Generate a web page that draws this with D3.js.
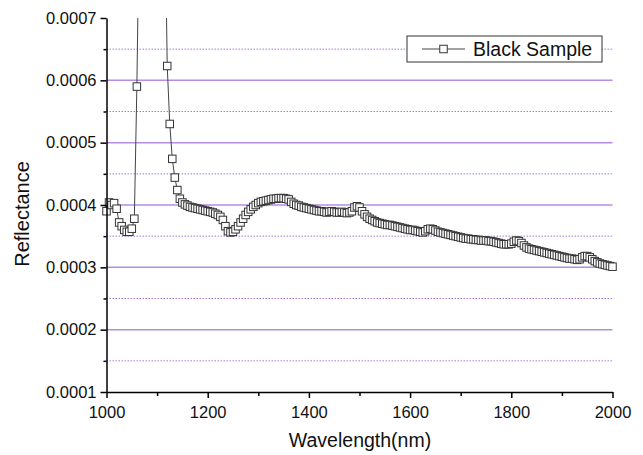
<!DOCTYPE html>
<html>
<head>
<meta charset="utf-8">
<script src="https://cdn.jsdelivr.net/npm/d3@7"></script>
<style>
  body { margin: 0; background: #fff; }
  text { font-family: "Liberation Sans", Arial, sans-serif; }
</style>
</head>
<body>
<svg id="chart" width="643" height="455"></svg>
<script>
// wavelengths (nm)
const wavelength = [
  1000,1005,1010,1015,1020,1025,1030,1035,1040,1045,1050,1055,1060,1065,1070,1075,1080,1085,1090,1095,
  1100,1105,1110,1115,1120,1125,1130,1135,1140,1145,1150,1155,1160,1165,1170,1175,1180,1185,1190,1195,
  1200,1205,1210,1215,1220,1225,1230,1235,1240,1245,1250,1255,1260,1265,1270,1275,1280,1285,1290,1295,
  1300,1305,1310,1315,1320,1325,1330,1335,1340,1345,1350,1355,1360,1365,1370,1375,1380,1385,1390,1395,
  1400,1405,1410,1415,1420,1425,1430,1435,1440,1445,1450,1455,1460,1465,1470,1475,1480,1485,1490,1495,
  1500,1505,1510,1515,1520,1525,1530,1535,1540,1545,1550,1555,1560,1565,1570,1575,1580,1585,1590,1595,
  1600,1605,1610,1615,1620,1625,1630,1635,1640,1645,1650,1655,1660,1665,1670,1675,1680,1685,1690,1695,
  1700,1705,1710,1715,1720,1725,1730,1735,1740,1745,1750,1755,1760,1765,1770,1775,1780,1785,1790,1795,
  1800,1805,1810,1815,1820,1825,1830,1835,1840,1845,1850,1855,1860,1865,1870,1875,1880,1885,1890,1895,
  1900,1905,1910,1915,1920,1925,1930,1935,1940,1945,1950,1955,1960,1965,1970,1975,1980,1985,1990,1995,
  2000
]
// Black Sample reflectance
const reflectance = [
  0.000390,0.000404,0.000400,0.000403,0.000394,0.000372,0.000366,0.000360,0.000357,0.000357,
  0.000362,0.000378,0.000590,0.000880,0.001250,0.001600,0.001900,0.002100,0.002200,0.002100,
  0.001900,0.001600,0.001200,0.000900,0.000623,0.000530,0.000474,0.000444,0.000424,0.000410,
  0.000404,0.000401,0.000399,0.000397,0.000396,0.000395,0.000394,0.000393,0.000392,0.000391,
  0.000390,0.000389,0.000388,0.000386,0.000384,0.000381,0.000376,0.000366,0.000358,0.000356,
  0.000357,0.000361,0.000366,0.000372,0.000378,0.000384,0.000389,0.000393,0.000397,0.000400,
  0.000403,0.000405,0.000406,0.000407,0.000408,0.000409,0.000410,0.000410,0.000411,0.000411,
  0.000411,0.000410,0.000409,0.000405,0.000402,0.000400,0.000399,0.000397,0.000396,0.000395,
  0.000394,0.000393,0.000392,0.000391,0.000390,0.000390,0.000389,0.000388,0.000389,0.000390,
  0.000389,0.000388,0.000388,0.000389,0.000388,0.000387,0.000388,0.000390,0.000396,0.000398,
  0.000396,0.000390,0.000385,0.000381,0.000378,0.000376,0.000374,0.000372,0.000371,0.000370,
  0.000369,0.000368,0.000368,0.000367,0.000366,0.000365,0.000364,0.000363,0.000362,0.000361,
  0.000360,0.000360,0.000359,0.000358,0.000357,0.000356,0.000358,0.000361,0.000362,0.000361,
  0.000359,0.000357,0.000356,0.000355,0.000354,0.000353,0.000352,0.000351,0.000350,0.000349,
  0.000348,0.000347,0.000346,0.000346,0.000345,0.000345,0.000344,0.000344,0.000343,0.000343,
  0.000343,0.000342,0.000342,0.000341,0.000340,0.000339,0.000338,0.000337,0.000337,0.000337,
  0.000338,0.000341,0.000343,0.000342,0.000339,0.000335,0.000332,0.000330,0.000329,0.000328,
  0.000327,0.000326,0.000325,0.000324,0.000323,0.000322,0.000321,0.000320,0.000319,0.000318,
  0.000317,0.000316,0.000315,0.000314,0.000314,0.000313,0.000312,0.000313,0.000316,0.000318,
  0.000318,0.000316,0.000313,0.000310,0.000308,0.000306,0.000305,0.000304,0.000303,0.000302,
  0.000301
]
const xTicks = [1000, 1200, 1400, 1600, 1800, 2000]
const xMinorTicks = [1100, 1300, 1500, 1700, 1900]
const yTicks = [0.0001, 0.0002, 0.0003, 0.0004, 0.0005, 0.0006, 0.0007]
const yMinorTicks = [0.00015, 0.00025, 0.00035, 0.00045, 0.00055, 0.00065]
const seriesName = "Black Sample"

const data = wavelength.map((w, i) => ({ w: w, r: reflectance[i] }))

let svg = d3.select("#chart")

let x = d3.scaleLinear().domain([1000, 2000]).range([106.5, 612.5])
let y = d3.scaleLinear().domain([0.0001, 0.0007]).range([392, 18])

// grid lines
svg.append("g")
  .selectAll("line")
  .data(yTicks.filter(v => v > 0.00011 && v < 0.00069))
  .join("line")
  .attr("x1", x(1000)).attr("x2", x(2000))
  .attr("y1", d => y(d)).attr("y2", d => y(d))
  .attr("stroke", "#b48de6")
  .attr("stroke-width", 1.5)

svg.append("g")
  .selectAll("line")
  .data(yMinorTicks)
  .join("line")
  .attr("x1", x(1000)).attr("x2", x(2000))
  .attr("y1", d => y(d)).attr("y2", d => y(d))
  .attr("stroke", "#a67ad8")
  .attr("stroke-width", 1)
  .attr("stroke-dasharray", "1.5,1.5")

// clip so the spike is cut at the top of the plot
svg.append("clipPath").attr("id", "clip")
  .append("rect").attr("x", 0).attr("y", y(0.0007)).attr("width", 643).attr("height", 437)

let plot = svg.append("g").attr("clip-path", "url(#clip)")

let line = d3.line().x(d => x(d.w)).y(d => y(d.r))

plot.append("path")
  .datum(data)
  .attr("d", line)
  .attr("fill", "none")
  .attr("stroke", "#444")
  .attr("stroke-width", 1)

let ms = 7.5
plot.selectAll("rect.pt")
  .data(data)
  .join("rect")
  .attr("class", "pt")
  .attr("x", d => x(d.w) - ms / 2)
  .attr("y", d => y(d.r) - ms / 2)
  .attr("width", ms)
  .attr("height", ms)
  .attr("fill", "#fff")
  .attr("stroke", "#333")
  .attr("stroke-width", 1)

// axes
svg.append("g")
  .attr("transform", `translate(0,${y(0.0001)})`)
  .call(d3.axisBottom(x).tickValues(xTicks).tickSize(6).tickSizeOuter(0).tickPadding(8).tickFormat(d3.format("d")))
svg.append("g")
  .attr("transform", `translate(0,${y(0.0001)})`)
  .call(d3.axisBottom(x).tickValues(xMinorTicks).tickSize(4).tickSizeOuter(0).tickFormat(""))
  .select(".domain").remove()

svg.append("g")
  .attr("transform", `translate(${x(1000)},0)`)
  .call(d3.axisLeft(y).tickValues(yTicks).tickSize(6).tickSizeOuter(0).tickPadding(4).tickFormat(d3.format(".4f")))
svg.append("g")
  .attr("transform", `translate(${x(1000)},0)`)
  .call(d3.axisLeft(y).tickValues(yMinorTicks).tickSize(3).tickSizeOuter(0).tickFormat(""))
  .select(".domain").remove()

svg.selectAll(".domain, .tick line").attr("stroke", "#000").attr("stroke-width", 1.5)
svg.selectAll(".tick text").attr("font-size", 16.5).attr("fill", "#111")
  .attr("font-family", "'Liberation Sans', Arial, sans-serif")

// axis titles
svg.append("text")
  .attr("x", 360).attr("y", 447)
  .attr("text-anchor", "middle")
  .attr("font-size", 19.5)
  .attr("fill", "#111")
  .text("Wavelength(nm)")

svg.append("text")
  .attr("transform", "translate(29,214) rotate(-90)")
  .attr("text-anchor", "middle")
  .attr("font-size", 20)
  .attr("fill", "#111")
  .text("Reflectance")

// legend
let legend = svg.append("g")
legend.append("rect")
  .attr("x", 407).attr("y", 36).attr("width", 195).attr("height", 26)
  .attr("fill", "#fff").attr("stroke", "#333").attr("stroke-width", 1)
legend.append("line")
  .attr("x1", 422).attr("x2", 465).attr("y1", 49).attr("y2", 49)
  .attr("stroke", "#444").attr("stroke-width", 1)
legend.append("rect")
  .attr("x", 443.5 - ms / 2).attr("y", 49 - ms / 2).attr("width", ms).attr("height", ms)
  .attr("fill", "#fff").attr("stroke", "#333")
legend.append("text")
  .attr("x", 473).attr("y", 56)
  .attr("font-size", 19.5)
  .attr("fill", "#111")
  .text(seriesName)
</script>
</body>
</html>
